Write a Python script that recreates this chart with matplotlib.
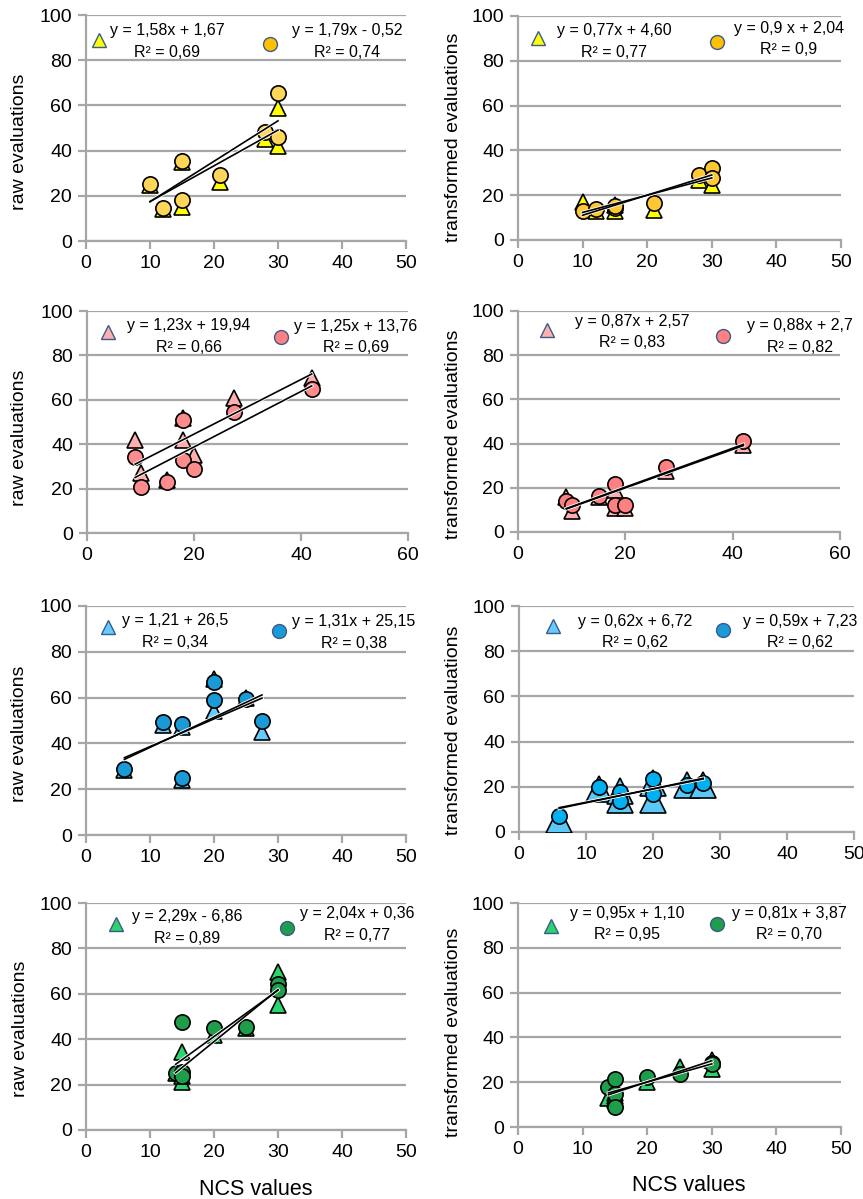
import numpy as np
import matplotlib.pyplot as plt

plt.rcParams['font.family'] = ['Liberation Sans', 'DejaVu Sans']

# yellow group
x_yel = [10, 12, 15, 15, 21, 28, 30, 30]
tri_yel_raw = [25, 14, 35, 15, 26, 45, 59, 42]
circ_yel_raw = [25.4, 14.5, 35.5, 18.3, 29.1, 48.2, 65.6, 46.1]
tri_yel_tr = [17, 13, 15.5, 13, 13.5, 27, 31, 24.5]
circ_yel_tr = [13, 14, 14.5, 15.2, 16.4, 29, 32, 27.5]

# pink group
x_pink = [9, 10, 15, 18, 18, 20, 27.5, 42]
tri_pink_raw = [42, 27, 24, 52, 42, 35, 61, 70]
circ_pink_raw = [34.3, 20.8, 23, 50.7, 33.1, 29, 54.5, 65]
tri_pink_tr = [16, 9.5, 16, 19, 11, 11, 27.5, 39.5]
circ_pink_tr = [14.2, 12, 16.4, 21.7, 12.3, 12, 29.2, 41]

# blue group
x_blue = [6, 12, 15, 15, 20, 20, 25, 27.5]
tri_blue_raw = [28.5, 48, 47, 24, 68, 54, 60, 45]
circ_blue_raw = [28.8, 49.5, 48.3, 25, 67, 59, 59.2, 49.8]
tri_blue_tr = [5.4, 19, 18, 14, 21.6, 14.3, 21, 21]
circ_blue_tr = [7.2, 19.7, 17.7, 13.5, 23.6, 16.8, 20.9, 21.9]

# green group
x_green = [14, 15, 15, 15, 20, 25, 30, 30]
tri_green_raw = [25, 34.2, 21.3, 24, 42, 45, 69.6, 55]
circ_green_raw = [24.9, 25.7, 47.4, 24, 45, 45.5, 64.5, 61.6]
tri_green_tr = [13, 15, 14, 12, 20, 27, 30, 26]
circ_green_tr = [17.9, 21.6, 14.9, 8.9, 22.3, 23.8, 28.6, 28]

# trendline coefficients (slope, intercept) and labels
tri_fit = [(1.58, 1.67), (0.77, 4.60), (1.23, 19.94), (0.87, 2.57),
           (1.21, 26.5), (0.62, 6.72), (2.29, -6.86), (0.95, 1.10)]
circ_fit = [(1.79, -0.52), (0.9, 2.04), (1.25, 13.76), (0.88, 2.7),
            (1.31, 25.15), (0.59, 7.23), (2.04, 0.36), (0.81, 3.87)]
tri_text = ['y = 1,58x + 1,67\nR² = 0,69', 'y = 0,77x + 4,60\nR² = 0,77',
            'y = 1,23x + 19,94\nR² = 0,66', 'y = 0,87x + 2,57\nR² = 0,83',
            'y = 1,21 + 26,5\nR² = 0,34', 'y = 0,62x + 6,72\nR² = 0,62',
            'y = 2,29x - 6,86\nR² = 0,89', 'y = 0,95x + 1,10\nR² = 0,95']
circ_text = ['y = 1,79x - 0,52\nR² = 0,74', 'y = 0,9 x + 2,04\nR² = 0,9',
             'y = 1,25x + 13,76\nR² = 0,69', 'y = 0,88x + 2,7\nR² = 0,82',
             'y = 1,31x + 25,15\nR² = 0,38', 'y = 0,59x + 7,23\nR² = 0,62',
             'y = 2,04x + 0,36\nR² = 0,77', 'y = 0,81x + 3,87\nR² = 0,70']

panels = [
    (x_yel, tri_yel_raw, circ_yel_raw), (x_yel, tri_yel_tr, circ_yel_tr),
    (x_pink, tri_pink_raw, circ_pink_raw), (x_pink, tri_pink_tr, circ_pink_tr),
    (x_blue, tri_blue_raw, circ_blue_raw), (x_blue, tri_blue_tr, circ_blue_tr),
    (x_green, tri_green_raw, circ_green_raw), (x_green, tri_green_tr, circ_green_tr),
]
xmax = [50, 50, 60, 60, 50, 50, 50, 50]
ylabels = ['raw evaluations', 'transformed evaluations'] * 4

tri_col = ['#FFFF00', '#FFFF00', '#FFAFAF', '#FFAFAF', '#66CCFF', '#5CC8F7', '#2BD46C', '#2BD46C']
circ_col = ['#FFD55A', '#FFC832', '#FF8C8C', '#FF8080', '#1A9AD6', '#00B0F0', '#1E9E4A', '#1E9E4A']
leg_tri_col = ['#FFFF00', '#FFFF00', '#FFAFAF', '#FFAFAF', '#66CCFF', '#66CCFF', '#2BD46C', '#2BD46C']
leg_circ_col = ['#FFC000', '#FFC000', '#FF8080', '#FF8080', '#1A9AD6', '#1A9AD6', '#1E9E4A', '#1E9E4A']
tri_ms = [11, 11, 11, 11, 11, 19, 11, 11]

# pixel boxes: left, right, top, bottom
boxes = [(86, 406, 15, 241), (518, 841, 16, 240),
         (87, 408, 311, 533), (518, 840, 311, 532),
         (86, 406, 606, 835), (519, 854, 606, 832),
         (86, 406, 903, 1130), (518, 841, 903, 1127)]
ylab_pos = [(-0.181, 0.44), (-0.173, 0.46), (-0.184, 0.43), (-0.174, 0.44),
            (-0.181, 0.44), (-0.170, 0.45), (-0.178, 0.445), (-0.173, 0.424)]
# annotation positions (axes fraction): tri marker, tri text, circ marker, circ text
ann = [((0.04, 0.89), (0.253, 0.883), (0.575, 0.872), (0.816, 0.883)),
       ((0.062, 0.90), (0.297, 0.885), (0.616, 0.884), (0.839, 0.897)),
       ((0.065, 0.905), (0.318, 0.885), (0.604, 0.885), (0.838, 0.883)),
       ((0.09, 0.914), (0.354, 0.905), (0.637, 0.887), (0.876, 0.884)),
       ((0.069, 0.909), (0.279, 0.888), (0.603, 0.891), (0.837, 0.885)),
       ((0.101, 0.912), (0.346, 0.885), (0.609, 0.894), (0.839, 0.885)),
       ((0.094, 0.907), (0.316, 0.891), (0.628, 0.891), (0.847, 0.904)),
       ((0.102, 0.897), (0.337, 0.906), (0.616, 0.906), (0.839, 0.906))]

W, H = 863, 1199
fig = plt.figure(figsize=(W / 100, H / 100), dpi=100)
grey = '#a6a6a6'

for i, (xs, tri, circ) in enumerate(panels):
    l, r, t, b = boxes[i]
    ax = fig.add_axes([l / W, 1 - b / H, (r - l) / W, (b - t) / H])
    ax.set_xlim(0, xmax[i])
    ax.set_ylim(0, 100)
    ax.set_xticks(np.arange(0, xmax[i] + 1, 10 if xmax[i] == 50 else 20))
    ax.set_yticks(np.arange(0, 101, 20))
    ax.yaxis.grid(True, color=grey, lw=1.6)
    ax.set_axisbelow(True)
    for s in ['top', 'right']:
        ax.spines[s].set_visible(False)
    for s in ['left', 'bottom']:
        ax.spines[s].set_color(grey)
        ax.spines[s].set_linewidth(1.6)
    ax.tick_params(axis='both', direction='out', length=6, width=1.6, color=grey,
                   labelsize=14, pad=4)

    ax.plot(xs, tri, ls='none', marker='^', ms=tri_ms[i], mfc=tri_col[i],
            mec='black', mew=1.2, zorder=3)
    ax.plot(xs, circ, ls='none', marker='o', ms=11, mfc=circ_col[i],
            mec='black', mew=1.2, zorder=4)

    x0, x1 = min(xs), max(xs)
    for a, c in (tri_fit[i], circ_fit[i]):
        ax.plot([x0, x1], [a * x0 + c, a * x1 + c], color='white', lw=2.4, zorder=5)
        ax.plot([x0, x1], [a * x0 + c, a * x1 + c], color='black', lw=1.2, zorder=6)

    tm, tt, cm, ct = ann[i]
    ax.plot(*tm, transform=ax.transAxes, marker='^', ms=10, mfc=leg_tri_col[i],
            mec='#3b5b8c', mew=1, clip_on=False, zorder=7)
    ax.plot(*cm, transform=ax.transAxes, marker='o', ms=10, mfc=leg_circ_col[i],
            mec='#3b5b8c', mew=1, clip_on=False, zorder=7)
    ax.text(*tt, tri_text[i], transform=ax.transAxes, ha='center', va='center',
            multialignment='center', fontsize=11.5, linespacing=1.55)
    ax.text(*ct, circ_text[i], transform=ax.transAxes, ha='center', va='center',
            multialignment='center', fontsize=11.5, linespacing=1.55)

    ax.set_ylabel(ylabels[i], fontsize=14)
    ax.yaxis.set_label_coords(*ylab_pos[i])
    if i >= 6:
        ax.set_xlabel('NCS values', fontsize=15.5)
        ax.xaxis.set_label_coords(0.53, -0.215)

fig.savefig('out.png', dpi=100)
